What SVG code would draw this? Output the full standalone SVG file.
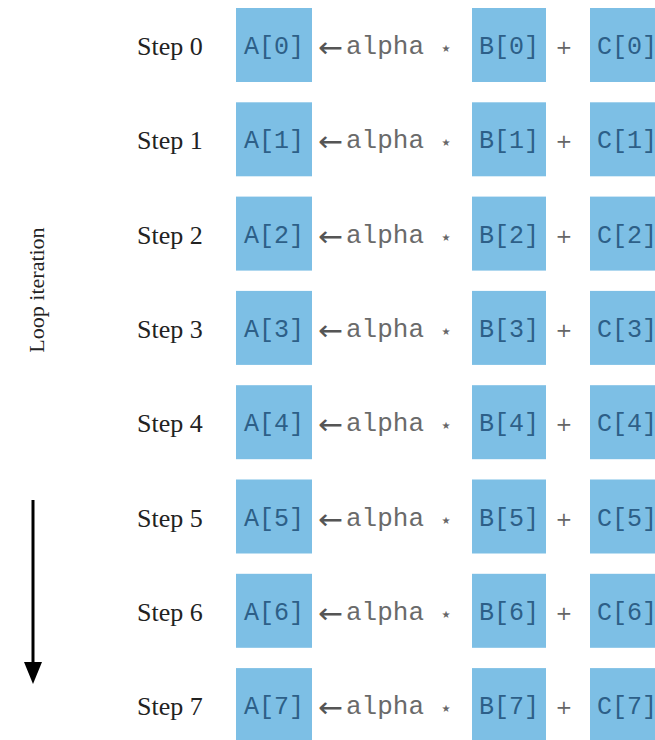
<svg xmlns="http://www.w3.org/2000/svg" width="655" height="740" viewBox="0 0 655 740">
  <style>
    .step { font-family: "Liberation Serif", "Times New Roman", serif; font-size: 26px; fill: #222; }
    .cell { fill: #7dbfe5; }
    .idx { font-family: "Liberation Mono", "Courier New", monospace; font-size: 25px; fill: #2d5f88; text-anchor: middle; }
    .op { font-family: "Liberation Mono", "Courier New", monospace; font-size: 26px; fill: #6a6a6a; }
    .arr { font-family: "DejaVu Sans", sans-serif; font-size: 28px; fill: #555; }
    .sym { font-family: "DejaVu Sans", sans-serif; font-size: 20px; fill: #666; text-anchor: middle; }
    .axis { font-family: "Liberation Serif", "Times New Roman", serif; font-size: 22px; fill: #222; text-anchor: middle; }
  </style>
  <defs>
    <!-- shared operator text: "<- alpha * ... +" -->
    <g id="row-ops">
      <text class="arr" x="318" y="57" textLength="25" lengthAdjust="spacingAndGlyphs">←</text>
      <text class="op" x="346" y="54">alpha</text>
      <text class="sym" x="446" y="55">⋆</text>
      <text class="sym" x="564" y="54">+</text>
    </g>
  </defs>
  <rect width="655" height="740" fill="#ffffff"/>

  <!-- vertical axis label -->
  <text class="axis" transform="translate(44,290) rotate(-90)">Loop iteration</text>

  <!-- loop direction arrow -->
  <g id="connectors">
    <line x1="33" y1="500" x2="33" y2="665" stroke="#000" stroke-width="3"/>
    <polygon points="24,662 42,662 33,684" fill="#000"/>
  </g>

  <!-- rows -->
  <g id="step0" transform="translate(0,0)">
    <text class="step" x="137" y="55">Step 0</text>
    <rect class="cell" x="236" y="8" width="76" height="74"/>
    <text class="idx" x="274" y="54">A[0]</text>
    <use href="#row-ops"/>
    <rect class="cell" x="472" y="8" width="74" height="74"/>
    <text class="idx" x="509" y="54">B[0]</text>
    <rect class="cell" x="590" y="8" width="74" height="74"/>
    <text class="idx" x="627" y="54">C[0]</text>
  </g>
  <g id="step1" transform="translate(0,94.3)">
    <text class="step" x="137" y="55">Step 1</text>
    <rect class="cell" x="236" y="8" width="76" height="74"/>
    <text class="idx" x="274" y="54">A[1]</text>
    <use href="#row-ops"/>
    <rect class="cell" x="472" y="8" width="74" height="74"/>
    <text class="idx" x="509" y="54">B[1]</text>
    <rect class="cell" x="590" y="8" width="74" height="74"/>
    <text class="idx" x="627" y="54">C[1]</text>
  </g>
  <g id="step2" transform="translate(0,188.6)">
    <text class="step" x="137" y="55">Step 2</text>
    <rect class="cell" x="236" y="8" width="76" height="74"/>
    <text class="idx" x="274" y="54">A[2]</text>
    <use href="#row-ops"/>
    <rect class="cell" x="472" y="8" width="74" height="74"/>
    <text class="idx" x="509" y="54">B[2]</text>
    <rect class="cell" x="590" y="8" width="74" height="74"/>
    <text class="idx" x="627" y="54">C[2]</text>
  </g>
  <g id="step3" transform="translate(0,282.9)">
    <text class="step" x="137" y="55">Step 3</text>
    <rect class="cell" x="236" y="8" width="76" height="74"/>
    <text class="idx" x="274" y="54">A[3]</text>
    <use href="#row-ops"/>
    <rect class="cell" x="472" y="8" width="74" height="74"/>
    <text class="idx" x="509" y="54">B[3]</text>
    <rect class="cell" x="590" y="8" width="74" height="74"/>
    <text class="idx" x="627" y="54">C[3]</text>
  </g>
  <g id="step4" transform="translate(0,377.2)">
    <text class="step" x="137" y="55">Step 4</text>
    <rect class="cell" x="236" y="8" width="76" height="74"/>
    <text class="idx" x="274" y="54">A[4]</text>
    <use href="#row-ops"/>
    <rect class="cell" x="472" y="8" width="74" height="74"/>
    <text class="idx" x="509" y="54">B[4]</text>
    <rect class="cell" x="590" y="8" width="74" height="74"/>
    <text class="idx" x="627" y="54">C[4]</text>
  </g>
  <g id="step5" transform="translate(0,471.5)">
    <text class="step" x="137" y="55">Step 5</text>
    <rect class="cell" x="236" y="8" width="76" height="74"/>
    <text class="idx" x="274" y="54">A[5]</text>
    <use href="#row-ops"/>
    <rect class="cell" x="472" y="8" width="74" height="74"/>
    <text class="idx" x="509" y="54">B[5]</text>
    <rect class="cell" x="590" y="8" width="74" height="74"/>
    <text class="idx" x="627" y="54">C[5]</text>
  </g>
  <g id="step6" transform="translate(0,565.8)">
    <text class="step" x="137" y="55">Step 6</text>
    <rect class="cell" x="236" y="8" width="76" height="74"/>
    <text class="idx" x="274" y="54">A[6]</text>
    <use href="#row-ops"/>
    <rect class="cell" x="472" y="8" width="74" height="74"/>
    <text class="idx" x="509" y="54">B[6]</text>
    <rect class="cell" x="590" y="8" width="74" height="74"/>
    <text class="idx" x="627" y="54">C[6]</text>
  </g>
  <g id="step7" transform="translate(0,660.1)">
    <text class="step" x="137" y="55">Step 7</text>
    <rect class="cell" x="236" y="8" width="76" height="74"/>
    <text class="idx" x="274" y="54">A[7]</text>
    <use href="#row-ops"/>
    <rect class="cell" x="472" y="8" width="74" height="74"/>
    <text class="idx" x="509" y="54">B[7]</text>
    <rect class="cell" x="590" y="8" width="74" height="74"/>
    <text class="idx" x="627" y="54">C[7]</text>
  </g>
</svg>
